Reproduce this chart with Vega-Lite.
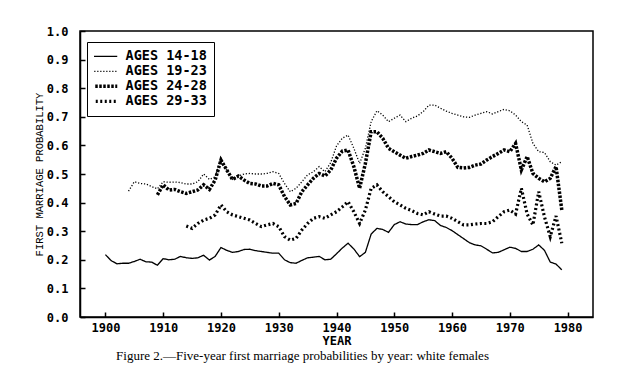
{
  "$schema": "https://vega.github.io/schema/vega-lite/v6.json",
  "width": 513,
  "height": 286,
  "autosize": "none",
  "padding": {"left": 80, "top": 31, "right": 45, "bottom": 72},
  "background": "white",
  "title": {
    "text": "Figure 2.—Five-year first marriage probabilities by year: white females",
    "orient": "bottom",
    "anchor": "middle",
    "dx": -34,
    "offset": 4,
    "font": "Liberation Serif",
    "fontSize": 13,
    "fontWeight": "normal",
    "color": "black"
  },
  "config": {
    "view": {"stroke": "black", "strokeWidth": 1.5},
    "axis": {
      "grid": false,
      "domainColor": "black",
      "domainWidth": 1.5,
      "tickColor": "black",
      "tickWidth": 1.5,
      "tickSize": -5,
      "labelFont": "DejaVu Sans Mono",
      "labelFontWeight": "bold",
      "labelFontSize": 12,
      "labelColor": "black",
      "titleColor": "black"
    }
  },
  "data": {
    "values": [
      {"year": 1900, "v": 0.218, "s": "AGES 14-18"},
      {"year": 1901, "v": 0.197, "s": "AGES 14-18"},
      {"year": 1902, "v": 0.186, "s": "AGES 14-18"},
      {"year": 1903, "v": 0.188, "s": "AGES 14-18"},
      {"year": 1904, "v": 0.188, "s": "AGES 14-18"},
      {"year": 1905, "v": 0.194, "s": "AGES 14-18"},
      {"year": 1906, "v": 0.202, "s": "AGES 14-18"},
      {"year": 1907, "v": 0.193, "s": "AGES 14-18"},
      {"year": 1908, "v": 0.192, "s": "AGES 14-18"},
      {"year": 1909, "v": 0.181, "s": "AGES 14-18"},
      {"year": 1910, "v": 0.204, "s": "AGES 14-18"},
      {"year": 1911, "v": 0.200, "s": "AGES 14-18"},
      {"year": 1912, "v": 0.202, "s": "AGES 14-18"},
      {"year": 1913, "v": 0.212, "s": "AGES 14-18"},
      {"year": 1914, "v": 0.207, "s": "AGES 14-18"},
      {"year": 1915, "v": 0.205, "s": "AGES 14-18"},
      {"year": 1916, "v": 0.207, "s": "AGES 14-18"},
      {"year": 1917, "v": 0.216, "s": "AGES 14-18"},
      {"year": 1918, "v": 0.199, "s": "AGES 14-18"},
      {"year": 1919, "v": 0.212, "s": "AGES 14-18"},
      {"year": 1920, "v": 0.243, "s": "AGES 14-18"},
      {"year": 1921, "v": 0.233, "s": "AGES 14-18"},
      {"year": 1922, "v": 0.226, "s": "AGES 14-18"},
      {"year": 1923, "v": 0.229, "s": "AGES 14-18"},
      {"year": 1924, "v": 0.236, "s": "AGES 14-18"},
      {"year": 1925, "v": 0.237, "s": "AGES 14-18"},
      {"year": 1926, "v": 0.232, "s": "AGES 14-18"},
      {"year": 1927, "v": 0.229, "s": "AGES 14-18"},
      {"year": 1928, "v": 0.226, "s": "AGES 14-18"},
      {"year": 1929, "v": 0.223, "s": "AGES 14-18"},
      {"year": 1930, "v": 0.223, "s": "AGES 14-18"},
      {"year": 1931, "v": 0.200, "s": "AGES 14-18"},
      {"year": 1932, "v": 0.190, "s": "AGES 14-18"},
      {"year": 1933, "v": 0.188, "s": "AGES 14-18"},
      {"year": 1934, "v": 0.198, "s": "AGES 14-18"},
      {"year": 1935, "v": 0.207, "s": "AGES 14-18"},
      {"year": 1936, "v": 0.209, "s": "AGES 14-18"},
      {"year": 1937, "v": 0.212, "s": "AGES 14-18"},
      {"year": 1938, "v": 0.200, "s": "AGES 14-18"},
      {"year": 1939, "v": 0.202, "s": "AGES 14-18"},
      {"year": 1940, "v": 0.221, "s": "AGES 14-18"},
      {"year": 1941, "v": 0.241, "s": "AGES 14-18"},
      {"year": 1942, "v": 0.258, "s": "AGES 14-18"},
      {"year": 1943, "v": 0.238, "s": "AGES 14-18"},
      {"year": 1944, "v": 0.211, "s": "AGES 14-18"},
      {"year": 1945, "v": 0.226, "s": "AGES 14-18"},
      {"year": 1946, "v": 0.290, "s": "AGES 14-18"},
      {"year": 1947, "v": 0.310, "s": "AGES 14-18"},
      {"year": 1948, "v": 0.306, "s": "AGES 14-18"},
      {"year": 1949, "v": 0.296, "s": "AGES 14-18"},
      {"year": 1950, "v": 0.323, "s": "AGES 14-18"},
      {"year": 1951, "v": 0.333, "s": "AGES 14-18"},
      {"year": 1952, "v": 0.325, "s": "AGES 14-18"},
      {"year": 1953, "v": 0.323, "s": "AGES 14-18"},
      {"year": 1954, "v": 0.323, "s": "AGES 14-18"},
      {"year": 1955, "v": 0.333, "s": "AGES 14-18"},
      {"year": 1956, "v": 0.340, "s": "AGES 14-18"},
      {"year": 1957, "v": 0.337, "s": "AGES 14-18"},
      {"year": 1958, "v": 0.320, "s": "AGES 14-18"},
      {"year": 1959, "v": 0.313, "s": "AGES 14-18"},
      {"year": 1960, "v": 0.302, "s": "AGES 14-18"},
      {"year": 1961, "v": 0.288, "s": "AGES 14-18"},
      {"year": 1962, "v": 0.274, "s": "AGES 14-18"},
      {"year": 1963, "v": 0.260, "s": "AGES 14-18"},
      {"year": 1964, "v": 0.252, "s": "AGES 14-18"},
      {"year": 1965, "v": 0.249, "s": "AGES 14-18"},
      {"year": 1966, "v": 0.237, "s": "AGES 14-18"},
      {"year": 1967, "v": 0.224, "s": "AGES 14-18"},
      {"year": 1968, "v": 0.226, "s": "AGES 14-18"},
      {"year": 1969, "v": 0.235, "s": "AGES 14-18"},
      {"year": 1970, "v": 0.244, "s": "AGES 14-18"},
      {"year": 1971, "v": 0.240, "s": "AGES 14-18"},
      {"year": 1972, "v": 0.229, "s": "AGES 14-18"},
      {"year": 1973, "v": 0.229, "s": "AGES 14-18"},
      {"year": 1974, "v": 0.237, "s": "AGES 14-18"},
      {"year": 1975, "v": 0.252, "s": "AGES 14-18"},
      {"year": 1976, "v": 0.233, "s": "AGES 14-18"},
      {"year": 1977, "v": 0.192, "s": "AGES 14-18"},
      {"year": 1978, "v": 0.185, "s": "AGES 14-18"},
      {"year": 1979, "v": 0.165, "s": "AGES 14-18"},

      {"year": 1904, "v": 0.440, "s": "AGES 19-23"},
      {"year": 1905, "v": 0.473, "s": "AGES 19-23"},
      {"year": 1906, "v": 0.467, "s": "AGES 19-23"},
      {"year": 1907, "v": 0.465, "s": "AGES 19-23"},
      {"year": 1908, "v": 0.456, "s": "AGES 19-23"},
      {"year": 1909, "v": 0.448, "s": "AGES 19-23"},
      {"year": 1910, "v": 0.473, "s": "AGES 19-23"},
      {"year": 1911, "v": 0.471, "s": "AGES 19-23"},
      {"year": 1912, "v": 0.472, "s": "AGES 19-23"},
      {"year": 1913, "v": 0.470, "s": "AGES 19-23"},
      {"year": 1914, "v": 0.465, "s": "AGES 19-23"},
      {"year": 1915, "v": 0.465, "s": "AGES 19-23"},
      {"year": 1916, "v": 0.473, "s": "AGES 19-23"},
      {"year": 1917, "v": 0.500, "s": "AGES 19-23"},
      {"year": 1918, "v": 0.481, "s": "AGES 19-23"},
      {"year": 1919, "v": 0.490, "s": "AGES 19-23"},
      {"year": 1920, "v": 0.555, "s": "AGES 19-23"},
      {"year": 1921, "v": 0.514, "s": "AGES 19-23"},
      {"year": 1922, "v": 0.481, "s": "AGES 19-23"},
      {"year": 1923, "v": 0.493, "s": "AGES 19-23"},
      {"year": 1924, "v": 0.500, "s": "AGES 19-23"},
      {"year": 1925, "v": 0.502, "s": "AGES 19-23"},
      {"year": 1926, "v": 0.500, "s": "AGES 19-23"},
      {"year": 1927, "v": 0.500, "s": "AGES 19-23"},
      {"year": 1928, "v": 0.502, "s": "AGES 19-23"},
      {"year": 1929, "v": 0.508, "s": "AGES 19-23"},
      {"year": 1930, "v": 0.502, "s": "AGES 19-23"},
      {"year": 1931, "v": 0.467, "s": "AGES 19-23"},
      {"year": 1932, "v": 0.438, "s": "AGES 19-23"},
      {"year": 1933, "v": 0.450, "s": "AGES 19-23"},
      {"year": 1934, "v": 0.473, "s": "AGES 19-23"},
      {"year": 1935, "v": 0.497, "s": "AGES 19-23"},
      {"year": 1936, "v": 0.508, "s": "AGES 19-23"},
      {"year": 1937, "v": 0.526, "s": "AGES 19-23"},
      {"year": 1938, "v": 0.508, "s": "AGES 19-23"},
      {"year": 1939, "v": 0.540, "s": "AGES 19-23"},
      {"year": 1940, "v": 0.598, "s": "AGES 19-23"},
      {"year": 1941, "v": 0.625, "s": "AGES 19-23"},
      {"year": 1942, "v": 0.636, "s": "AGES 19-23"},
      {"year": 1943, "v": 0.590, "s": "AGES 19-23"},
      {"year": 1944, "v": 0.537, "s": "AGES 19-23"},
      {"year": 1945, "v": 0.590, "s": "AGES 19-23"},
      {"year": 1946, "v": 0.683, "s": "AGES 19-23"},
      {"year": 1947, "v": 0.721, "s": "AGES 19-23"},
      {"year": 1948, "v": 0.706, "s": "AGES 19-23"},
      {"year": 1949, "v": 0.683, "s": "AGES 19-23"},
      {"year": 1950, "v": 0.695, "s": "AGES 19-23"},
      {"year": 1951, "v": 0.706, "s": "AGES 19-23"},
      {"year": 1952, "v": 0.683, "s": "AGES 19-23"},
      {"year": 1953, "v": 0.695, "s": "AGES 19-23"},
      {"year": 1954, "v": 0.703, "s": "AGES 19-23"},
      {"year": 1955, "v": 0.718, "s": "AGES 19-23"},
      {"year": 1956, "v": 0.741, "s": "AGES 19-23"},
      {"year": 1957, "v": 0.741, "s": "AGES 19-23"},
      {"year": 1958, "v": 0.730, "s": "AGES 19-23"},
      {"year": 1959, "v": 0.720, "s": "AGES 19-23"},
      {"year": 1960, "v": 0.712, "s": "AGES 19-23"},
      {"year": 1961, "v": 0.706, "s": "AGES 19-23"},
      {"year": 1962, "v": 0.700, "s": "AGES 19-23"},
      {"year": 1963, "v": 0.698, "s": "AGES 19-23"},
      {"year": 1964, "v": 0.706, "s": "AGES 19-23"},
      {"year": 1965, "v": 0.712, "s": "AGES 19-23"},
      {"year": 1966, "v": 0.718, "s": "AGES 19-23"},
      {"year": 1967, "v": 0.710, "s": "AGES 19-23"},
      {"year": 1968, "v": 0.718, "s": "AGES 19-23"},
      {"year": 1969, "v": 0.726, "s": "AGES 19-23"},
      {"year": 1970, "v": 0.721, "s": "AGES 19-23"},
      {"year": 1971, "v": 0.706, "s": "AGES 19-23"},
      {"year": 1972, "v": 0.683, "s": "AGES 19-23"},
      {"year": 1973, "v": 0.671, "s": "AGES 19-23"},
      {"year": 1974, "v": 0.607, "s": "AGES 19-23"},
      {"year": 1975, "v": 0.578, "s": "AGES 19-23"},
      {"year": 1976, "v": 0.575, "s": "AGES 19-23"},
      {"year": 1977, "v": 0.543, "s": "AGES 19-23"},
      {"year": 1978, "v": 0.531, "s": "AGES 19-23"},
      {"year": 1979, "v": 0.543, "s": "AGES 19-23"},

      {"year": 1909, "v": 0.427, "s": "AGES 24-28"},
      {"year": 1910, "v": 0.462, "s": "AGES 24-28"},
      {"year": 1911, "v": 0.444, "s": "AGES 24-28"},
      {"year": 1912, "v": 0.446, "s": "AGES 24-28"},
      {"year": 1913, "v": 0.438, "s": "AGES 24-28"},
      {"year": 1914, "v": 0.432, "s": "AGES 24-28"},
      {"year": 1915, "v": 0.438, "s": "AGES 24-28"},
      {"year": 1916, "v": 0.444, "s": "AGES 24-28"},
      {"year": 1917, "v": 0.462, "s": "AGES 24-28"},
      {"year": 1918, "v": 0.446, "s": "AGES 24-28"},
      {"year": 1919, "v": 0.479, "s": "AGES 24-28"},
      {"year": 1920, "v": 0.549, "s": "AGES 24-28"},
      {"year": 1921, "v": 0.514, "s": "AGES 24-28"},
      {"year": 1922, "v": 0.481, "s": "AGES 24-28"},
      {"year": 1923, "v": 0.493, "s": "AGES 24-28"},
      {"year": 1924, "v": 0.479, "s": "AGES 24-28"},
      {"year": 1925, "v": 0.467, "s": "AGES 24-28"},
      {"year": 1926, "v": 0.465, "s": "AGES 24-28"},
      {"year": 1927, "v": 0.458, "s": "AGES 24-28"},
      {"year": 1928, "v": 0.458, "s": "AGES 24-28"},
      {"year": 1929, "v": 0.467, "s": "AGES 24-28"},
      {"year": 1930, "v": 0.462, "s": "AGES 24-28"},
      {"year": 1931, "v": 0.421, "s": "AGES 24-28"},
      {"year": 1932, "v": 0.392, "s": "AGES 24-28"},
      {"year": 1933, "v": 0.397, "s": "AGES 24-28"},
      {"year": 1934, "v": 0.438, "s": "AGES 24-28"},
      {"year": 1935, "v": 0.462, "s": "AGES 24-28"},
      {"year": 1936, "v": 0.485, "s": "AGES 24-28"},
      {"year": 1937, "v": 0.502, "s": "AGES 24-28"},
      {"year": 1938, "v": 0.493, "s": "AGES 24-28"},
      {"year": 1939, "v": 0.514, "s": "AGES 24-28"},
      {"year": 1940, "v": 0.555, "s": "AGES 24-28"},
      {"year": 1941, "v": 0.580, "s": "AGES 24-28"},
      {"year": 1942, "v": 0.584, "s": "AGES 24-28"},
      {"year": 1943, "v": 0.526, "s": "AGES 24-28"},
      {"year": 1944, "v": 0.450, "s": "AGES 24-28"},
      {"year": 1945, "v": 0.537, "s": "AGES 24-28"},
      {"year": 1946, "v": 0.648, "s": "AGES 24-28"},
      {"year": 1947, "v": 0.648, "s": "AGES 24-28"},
      {"year": 1948, "v": 0.625, "s": "AGES 24-28"},
      {"year": 1949, "v": 0.590, "s": "AGES 24-28"},
      {"year": 1950, "v": 0.578, "s": "AGES 24-28"},
      {"year": 1951, "v": 0.566, "s": "AGES 24-28"},
      {"year": 1952, "v": 0.555, "s": "AGES 24-28"},
      {"year": 1953, "v": 0.561, "s": "AGES 24-28"},
      {"year": 1954, "v": 0.566, "s": "AGES 24-28"},
      {"year": 1955, "v": 0.572, "s": "AGES 24-28"},
      {"year": 1956, "v": 0.584, "s": "AGES 24-28"},
      {"year": 1957, "v": 0.578, "s": "AGES 24-28"},
      {"year": 1958, "v": 0.572, "s": "AGES 24-28"},
      {"year": 1959, "v": 0.578, "s": "AGES 24-28"},
      {"year": 1960, "v": 0.555, "s": "AGES 24-28"},
      {"year": 1961, "v": 0.523, "s": "AGES 24-28"},
      {"year": 1962, "v": 0.521, "s": "AGES 24-28"},
      {"year": 1963, "v": 0.523, "s": "AGES 24-28"},
      {"year": 1964, "v": 0.531, "s": "AGES 24-28"},
      {"year": 1965, "v": 0.535, "s": "AGES 24-28"},
      {"year": 1966, "v": 0.549, "s": "AGES 24-28"},
      {"year": 1967, "v": 0.561, "s": "AGES 24-28"},
      {"year": 1968, "v": 0.572, "s": "AGES 24-28"},
      {"year": 1969, "v": 0.584, "s": "AGES 24-28"},
      {"year": 1970, "v": 0.578, "s": "AGES 24-28"},
      {"year": 1971, "v": 0.607, "s": "AGES 24-28"},
      {"year": 1972, "v": 0.514, "s": "AGES 24-28"},
      {"year": 1973, "v": 0.561, "s": "AGES 24-28"},
      {"year": 1974, "v": 0.502, "s": "AGES 24-28"},
      {"year": 1975, "v": 0.485, "s": "AGES 24-28"},
      {"year": 1976, "v": 0.473, "s": "AGES 24-28"},
      {"year": 1977, "v": 0.485, "s": "AGES 24-28"},
      {"year": 1978, "v": 0.526, "s": "AGES 24-28"},
      {"year": 1979, "v": 0.374, "s": "AGES 24-28"},

      {"year": 1914, "v": 0.318, "s": "AGES 29-33"},
      {"year": 1915, "v": 0.310, "s": "AGES 29-33"},
      {"year": 1916, "v": 0.327, "s": "AGES 29-33"},
      {"year": 1917, "v": 0.339, "s": "AGES 29-33"},
      {"year": 1918, "v": 0.345, "s": "AGES 29-33"},
      {"year": 1919, "v": 0.357, "s": "AGES 29-33"},
      {"year": 1920, "v": 0.392, "s": "AGES 29-33"},
      {"year": 1921, "v": 0.368, "s": "AGES 29-33"},
      {"year": 1922, "v": 0.357, "s": "AGES 29-33"},
      {"year": 1923, "v": 0.351, "s": "AGES 29-33"},
      {"year": 1924, "v": 0.345, "s": "AGES 29-33"},
      {"year": 1925, "v": 0.339, "s": "AGES 29-33"},
      {"year": 1926, "v": 0.327, "s": "AGES 29-33"},
      {"year": 1927, "v": 0.316, "s": "AGES 29-33"},
      {"year": 1928, "v": 0.322, "s": "AGES 29-33"},
      {"year": 1929, "v": 0.327, "s": "AGES 29-33"},
      {"year": 1930, "v": 0.316, "s": "AGES 29-33"},
      {"year": 1931, "v": 0.281, "s": "AGES 29-33"},
      {"year": 1932, "v": 0.269, "s": "AGES 29-33"},
      {"year": 1933, "v": 0.275, "s": "AGES 29-33"},
      {"year": 1934, "v": 0.304, "s": "AGES 29-33"},
      {"year": 1935, "v": 0.327, "s": "AGES 29-33"},
      {"year": 1936, "v": 0.345, "s": "AGES 29-33"},
      {"year": 1937, "v": 0.351, "s": "AGES 29-33"},
      {"year": 1938, "v": 0.345, "s": "AGES 29-33"},
      {"year": 1939, "v": 0.357, "s": "AGES 29-33"},
      {"year": 1940, "v": 0.368, "s": "AGES 29-33"},
      {"year": 1941, "v": 0.385, "s": "AGES 29-33"},
      {"year": 1942, "v": 0.403, "s": "AGES 29-33"},
      {"year": 1943, "v": 0.368, "s": "AGES 29-33"},
      {"year": 1944, "v": 0.327, "s": "AGES 29-33"},
      {"year": 1945, "v": 0.374, "s": "AGES 29-33"},
      {"year": 1946, "v": 0.450, "s": "AGES 29-33"},
      {"year": 1947, "v": 0.462, "s": "AGES 29-33"},
      {"year": 1948, "v": 0.438, "s": "AGES 29-33"},
      {"year": 1949, "v": 0.421, "s": "AGES 29-33"},
      {"year": 1950, "v": 0.403, "s": "AGES 29-33"},
      {"year": 1951, "v": 0.392, "s": "AGES 29-33"},
      {"year": 1952, "v": 0.380, "s": "AGES 29-33"},
      {"year": 1953, "v": 0.372, "s": "AGES 29-33"},
      {"year": 1954, "v": 0.362, "s": "AGES 29-33"},
      {"year": 1955, "v": 0.357, "s": "AGES 29-33"},
      {"year": 1956, "v": 0.368, "s": "AGES 29-33"},
      {"year": 1957, "v": 0.360, "s": "AGES 29-33"},
      {"year": 1958, "v": 0.353, "s": "AGES 29-33"},
      {"year": 1959, "v": 0.353, "s": "AGES 29-33"},
      {"year": 1960, "v": 0.345, "s": "AGES 29-33"},
      {"year": 1961, "v": 0.333, "s": "AGES 29-33"},
      {"year": 1962, "v": 0.322, "s": "AGES 29-33"},
      {"year": 1963, "v": 0.322, "s": "AGES 29-33"},
      {"year": 1964, "v": 0.325, "s": "AGES 29-33"},
      {"year": 1965, "v": 0.327, "s": "AGES 29-33"},
      {"year": 1966, "v": 0.327, "s": "AGES 29-33"},
      {"year": 1967, "v": 0.333, "s": "AGES 29-33"},
      {"year": 1968, "v": 0.351, "s": "AGES 29-33"},
      {"year": 1969, "v": 0.368, "s": "AGES 29-33"},
      {"year": 1970, "v": 0.374, "s": "AGES 29-33"},
      {"year": 1971, "v": 0.360, "s": "AGES 29-33"},
      {"year": 1972, "v": 0.450, "s": "AGES 29-33"},
      {"year": 1973, "v": 0.360, "s": "AGES 29-33"},
      {"year": 1974, "v": 0.322, "s": "AGES 29-33"},
      {"year": 1975, "v": 0.438, "s": "AGES 29-33"},
      {"year": 1976, "v": 0.350, "s": "AGES 29-33"},
      {"year": 1977, "v": 0.281, "s": "AGES 29-33"},
      {"year": 1978, "v": 0.353, "s": "AGES 29-33"},
      {"year": 1979, "v": 0.258, "s": "AGES 29-33"}
    ]
  },
  "mark": {"type": "line", "color": "black", "interpolate": "linear"},
  "encoding": {
    "x": {
      "field": "year",
      "type": "quantitative",
      "scale": {"domain": [1895.6, 1984.4], "nice": false, "zero": false},
      "axis": {
        "values": [1900, 1910, 1920, 1930, 1940, 1950, 1960, 1970, 1980],
        "format": "d",
        "labelPadding": 10,
        "title": "YEAR",
        "titleFont": "DejaVu Sans Mono",
        "titleFontWeight": "bold",
        "titleFontSize": 12,
        "titlePadding": 2
      }
    },
    "y": {
      "field": "v",
      "type": "quantitative",
      "scale": {"domain": [0, 1], "nice": false},
      "axis": {
        "values": [0, 0.1, 0.2, 0.3, 0.4, 0.5, 0.6, 0.7, 0.8, 0.9, 1.0],
        "format": ".1f",
        "labelPadding": 17,
        "title": "FIRST MARRIAGE PROBABILITY",
        "titleFont": "Liberation Mono",
        "titleFontWeight": "normal",
        "titleFontSize": 10.5,
        "titlePadding": 2
      }
    },
    "strokeDash": {
      "field": "s",
      "type": "nominal",
      "scale": {
        "domain": ["AGES 14-18", "AGES 19-23", "AGES 24-28", "AGES 29-33"],
        "range": [[1, 0], [1.2, 1.8], [2.5, 1.5], [2, 2.5]]
      },
      "legend": {
        "title": null,
        "orient": "none",
        "legendX": 7,
        "legendY": 11,
        "strokeColor": "black",
        "padding": 7,
        "symbolType": "stroke",
        "symbolSize": 676,
        "symbolStrokeColor": "black",
        "symbolOffset": 3.5,
        "clipHeight": 14.7,
        "rowPadding": 0,
        "labelFont": "DejaVu Sans Mono",
        "labelFontWeight": "bold",
        "labelFontSize": 13.5,
        "labelColor": "black",
        "labelOffset": 14.5,
        "encode": {
          "symbols": {
            "update": {
              "strokeWidth": {"signal": "datum.value === 'AGES 24-28' ? 3.5 : datum.value === 'AGES 29-33' ? 3.2 : 1.3"}
            }
          }
        }
      }
    },
    "strokeWidth": {
      "condition": [
        {"test": "datum.s === 'AGES 24-28'", "value": 3.5},
        {"test": "datum.s === 'AGES 29-33'", "value": 3.2}
      ],
      "value": 1.3
    }
  }
}
